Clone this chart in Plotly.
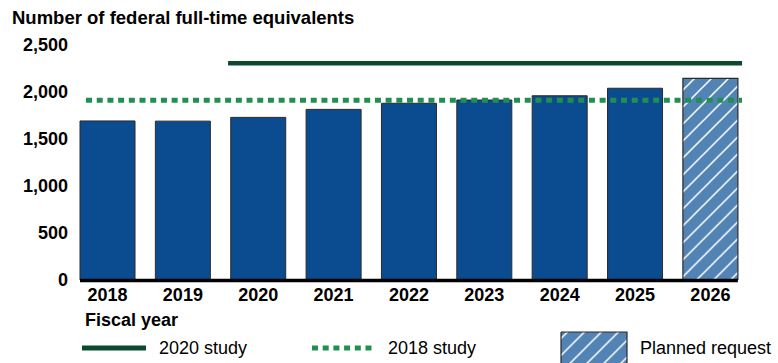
import plotly.graph_objects as go

# Fiscal years and federal full-time equivalents (FTEs)
years = ["2018", "2019", "2020", "2021", "2022", "2023", "2024", "2025", "2026"]
fte = [1692, 1690, 1730, 1815, 1880, 1915, 1960, 2040, 2145]
planned = [False, False, False, False, False, False, False, False, True]

# Staffing levels recommended by the two workforce studies
study_2020_level = 2305
study_2018_level = 1912
study_2020_span = (1.6, 8.42)     # starts at FY2020
study_2018_span = (-0.285, 8.42)

y_ticks = [0, 500, 1000, 1500, 2000, 2500]

FONT = "Liberation Sans, Arial, sans-serif"
BAR_BLUE = "#0A4C8F"
HATCH_BLUE = "#5183B5"
DARK_GREEN = "#0B4A2D"
DOT_GREEN = "#218F50"
OUTLINE = "#2b2b2b"
DOT_DASH = "6px,4.7px"

W, H = 778, 363
# plot area in pixels
PX_L, PX_R, PX_T, PX_B = 75.1, 742.8, 36.0, 280.0

x_pos = list(range(len(years)))
act_x = [x for x, p in zip(x_pos, planned) if not p]
act_y = [v for v, p in zip(fte, planned) if not p]
pl_x = [x for x, p in zip(x_pos, planned) if p]
pl_y = [v for v, p in zip(fte, planned) if p]

BAR_W = 0.73

fig = go.Figure()

fig.add_trace(go.Bar(
    x=act_x, y=act_y, width=BAR_W,
    marker=dict(color=BAR_BLUE, line=dict(color=OUTLINE, width=1)),
    showlegend=False, hoverinfo="x+y",
))
fig.add_trace(go.Bar(
    x=pl_x, y=pl_y, width=BAR_W,
    marker=dict(
        color=HATCH_BLUE,
        line=dict(color=OUTLINE, width=1.2),
        pattern=dict(shape="/", bgcolor=HATCH_BLUE, fgcolor="white",
                     size=12, solidity=0.13, fillmode="replace"),
    ),
    showlegend=False,
))

# Study reference lines
fig.add_trace(go.Scatter(
    x=list(study_2018_span), y=[study_2018_level] * 2, mode="lines",
    line=dict(color=DOT_GREEN, width=5, dash=DOT_DASH),
    showlegend=False, hoverinfo="skip",
))
fig.add_trace(go.Scatter(
    x=list(study_2020_span), y=[study_2020_level] * 2, mode="lines",
    line=dict(color=DARK_GREEN, width=4.5),
    showlegend=False, hoverinfo="skip",
))

# Hatched key for the legend (pixel-space overlay axes)
kx0, kx1, ky0, ky1 = 561, 627, 332, 365
fig.add_trace(go.Scatter(
    x=[kx0, kx1, kx1, kx0, kx0], y=[ky0, ky0, ky1, ky1, ky0],
    xaxis="x2", yaxis="y2", mode="lines", fill="toself",
    fillcolor=HATCH_BLUE,
    fillpattern=dict(shape="/", bgcolor=HATCH_BLUE, fgcolor="white",
                     size=12, solidity=0.13, fillmode="replace"),
    line=dict(color=OUTLINE, width=1.2),
    showlegend=False, hoverinfo="skip",
))

tick_font = dict(family=FONT, size=18, color="black", weight="bold")

fig.update_layout(
    width=W, height=H,
    autosize=False,
    margin=dict(l=0, r=0, t=0, b=0, pad=0, autoexpand=False),
    paper_bgcolor="white",
    plot_bgcolor="rgba(0,0,0,0)",
    barmode="overlay",
    font=dict(family=FONT, color="black"),
    xaxis=dict(
        domain=[PX_L / W, PX_R / W],
        range=[-0.43, 8.43],
        tickvals=x_pos, ticktext=years,
        tickfont=tick_font, showgrid=False, zeroline=False,
        showline=False, ticks="", ticklabelstandoff=2,
        automargin=False, fixedrange=True,
    ),
    yaxis=dict(
        domain=[(H - PX_B) / H, (H - PX_T) / H],
        range=[0, (PX_B - PX_T) / 0.094],
        tickvals=y_ticks, tickformat=",",
        tickfont=tick_font, showgrid=False, zeroline=False,
        showline=False, ticks="", ticklabelstandoff=6,
        automargin=False, fixedrange=True,
    ),
    xaxis2=dict(domain=[0, 1], range=[0, W], visible=False,
                anchor="y2", fixedrange=True, automargin=False),
    yaxis2=dict(domain=[0, 1], range=[H, 0], visible=False,
                anchor="x2", fixedrange=True, automargin=False),
    showlegend=False,
)

# Baseline spanning the bars
fig.add_shape(type="line", xref="x", yref="paper",
              x0=-BAR_W / 2, x1=len(years) - 1 + BAR_W / 2,
              y0=(H - PX_B - 0.5) / H, y1=(H - PX_B - 0.5) / H,
              line=dict(color="black", width=3.5))

# Title and axis label
fig.add_annotation(text="Number of federal full-time equivalents",
                   xref="paper", yref="paper", x=10 / W, y=1 - 17 / H,
                   xanchor="left", yanchor="middle", showarrow=False,
                   font=dict(family=FONT, size=18.5, color="black", weight="bold"))
fig.add_annotation(text="Fiscal year",
                   xref="paper", yref="paper", x=83 / W, y=1 - 320 / H,
                   xanchor="left", yanchor="middle", showarrow=False,
                   font=dict(family=FONT, size=18, color="black", weight="bold"))

# Legend
LEG_Y = 348
fig.add_shape(type="line", xref="paper", yref="paper",
              x0=82 / W, x1=146 / W, y0=1 - LEG_Y / H, y1=1 - LEG_Y / H,
              line=dict(color=DARK_GREEN, width=5))
fig.add_shape(type="line", xref="paper", yref="paper",
              x0=312 / W, x1=373 / W, y0=1 - LEG_Y / H, y1=1 - LEG_Y / H,
              line=dict(color=DOT_GREEN, width=5, dash=DOT_DASH))
for label, lx in [("2020 study", 157), ("2018 study", 386), ("Planned request", 638)]:
    fig.add_annotation(text=label, xref="paper", yref="paper",
                       x=lx / W, y=1 - LEG_Y / H, xanchor="left", yanchor="middle",
                       showarrow=False,
                       font=dict(family=FONT, size=18, color="black"))

fig.write_html("out.html")
